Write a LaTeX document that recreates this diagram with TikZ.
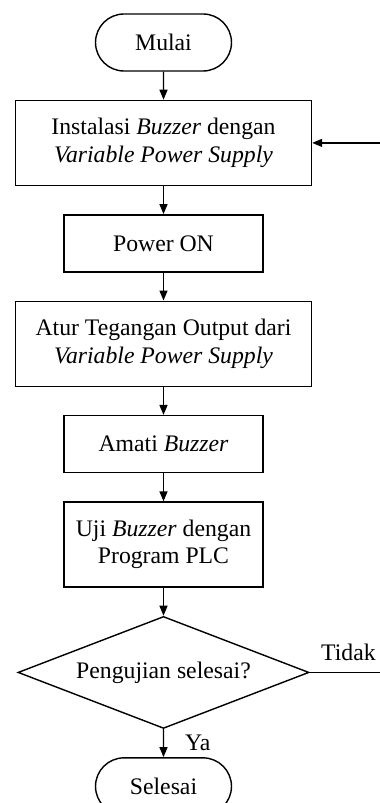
\documentclass[tikz,border=0pt]{standalone}
\usepackage{fontspec}
\setmainfont{Liberation Serif}
\usetikzlibrary{arrows.meta, positioning, shapes.geometric, shapes.misc}

\begin{document}
\begin{tikzpicture}[
  node distance=5.6mm,
  every node/.style={font=\fontsize{13.5}{15.5}\selectfont},
  terminal/.style={rounded rectangle, draw, line width=0.8pt,
                   minimum width=28.6mm, minimum height=11.4mm, inner sep=2pt},
  widebox/.style={rectangle, draw, line width=0.8pt, align=center,
                  minimum width=59.2mm, minimum height=17mm, inner sep=2pt},
  smallbox/.style={widebox, minimum width=39.8mm, minimum height=11.4mm},
  tallbox/.style={widebox, minimum width=39.8mm},
  decision/.style={diamond, draw, line width=0.8pt, aspect=2.6, inner sep=0pt,
                   minimum width=58.2mm, minimum height=22.4mm},
  arr/.style={-{Triangle[length=2mm, width=1.6mm]}, line width=0.8pt}
]
  \useasboundingbox (-3.27,0.85) rectangle (4.33,-15.21);

  \node[terminal] (mulai) {Mulai};
  \node[widebox, below=of mulai] (instal) {Instalasi \textit{Buzzer} dengan\\
                                          \textit{Variable Power Supply}};
  \node[smallbox, below=of instal] (power) {Power ON};
  \node[widebox, below=of power] (atur) {Atur Tegangan Output dari\\
                                        \textit{Variable Power Supply}};
  \node[smallbox, below=of atur] (amati) {Amati \textit{Buzzer}};
  \node[tallbox, below=of amati] (uji) {Uji \textit{Buzzer} dengan\\
                                       Program PLC};
  \node[decision, below=of uji] (cek) {Pengujian selesai?};
  \node[terminal, below=of cek] (selesai) {Selesai};

  \draw[arr] (mulai) -- (instal);
  \draw[arr] (instal) -- (power);
  \draw[arr] (power) -- (atur);
  \draw[arr] (atur) -- (amati);
  \draw[arr] (amati) -- (uji);
  \draw[arr] (uji) -- (cek);
  \draw[arr] (cek) -- node[right=3mm] (ya) {Ya} (selesai);
  \draw[arr] (cek.east) -- node[pos=0.43, above=3pt] (tidak) {Tidak}
             ++(1.8,0) |- (instal.east);
\end{tikzpicture}
\end{document}
